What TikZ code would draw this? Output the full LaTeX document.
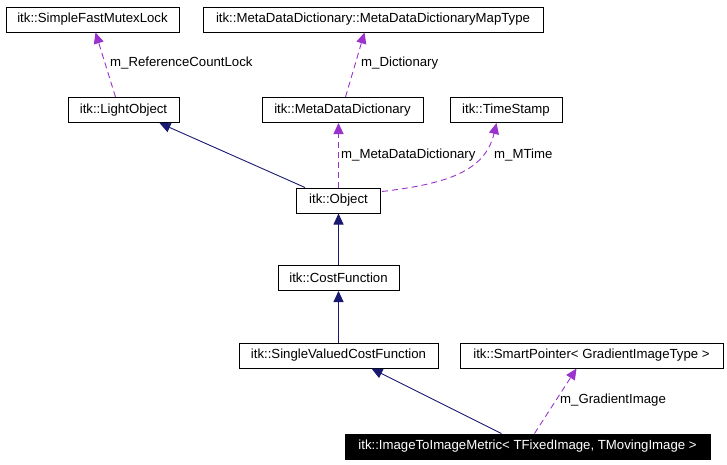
\documentclass[tikz,border=0pt]{standalone}
\usepackage{fontspec}
\setmainfont{Liberation Sans}
\usetikzlibrary{arrows.meta,calc}
\definecolor{navyline}{HTML}{191970}
\definecolor{purpline}{HTML}{9A32CD}
\begin{document}
\begin{tikzpicture}[x=1pt,y=-1pt,
  cls/.style={draw=black,line width=1pt,fill=white,inner sep=0pt,minimum height=25pt,font=\fontsize{13.2}{15}\selectfont},
  focus/.style={cls,fill=black,text=white},
  inherit/.style={draw=navyline,line width=0.9pt,-{Triangle[length=11pt,width=10pt,fill=navyline]}},
  member/.style={draw=purpline,line width=0.9pt,dash pattern=on 6pt off 4pt,-{Triangle[length=11pt,width=10pt,fill=purpline]}},
  lbl/.style={anchor=west,inner sep=0pt,font=\fontsize{13.2}{15}\selectfont}]
\useasboundingbox (0,0) rectangle (727,464);
\node[cls,minimum width=173pt] (mutex) at (92.5,19.5) {itk::SimpleFastMutexLock};
\node[cls,minimum width=340pt] (maptype) at (373,19.5) {itk::MetaDataDictionary::MetaDataDictionaryMapType};
\node[cls,minimum width=111pt] (light) at (123.5,110) {itk::LightObject};
\node[cls,minimum width=161pt] (mdd) at (342.5,110) {itk::MetaDataDictionary};
\node[cls,minimum width=112pt] (stamp) at (506,110) {itk::TimeStamp};
\node[cls,minimum width=84pt] (obj) at (338.5,200.5) {itk::Object};
\node[cls,minimum width=121pt] (cost) at (338.5,278) {itk::CostFunction};
\node[cls,minimum width=199pt] (svcf) at (338.5,355.5) {itk::SingleValuedCostFunction};
\node[cls,minimum width=263pt] (smart) at (591.5,355.5) {itk::SmartPointer< GradientImageType >};
\node[focus,minimum width=365pt] (metric) at (527.5,446.5) {itk::ImageToImageMetric< TFixedImage, TMovingImage >};

% inheritance
\draw[inherit] ($(obj.north west)+(9,0)$) -- ($(light.south west)+(92,0)$);
\draw[inherit] (cost.north) -- (obj.south);
\draw[inherit] (svcf.north) -- (cost.south);
\draw[inherit] ($(metric.north west)+(157,0)$) -- ($(svcf.south west)+(133,0)$);

% members
\draw[member] ($(light.north west)+(48,0)$) -- ($(mutex.south west)+(90,0)$);
\node[lbl] (l1) at (110,63) {m\_ReferenceCountLock};
\draw[member] ($(mdd.north west)+(84,0)$) -- ($(maptype.south west)+(162,0)$);
\node[lbl] (l2) at (361,63) {m\_Dictionary};
\draw[member] ($(obj.north west)+(42.5,0)$) -- ($(mdd.south west)+(77,0)$);
\node[lbl] (l3) at (341,155) {m\_MetaDataDictionary};
\draw[member] ($(obj.north east)+(1,4)$) .. controls (445,184) and (485,172) .. ($(stamp.south west)+(47,0)$);
\node[lbl] (l4) at (494,155) {m\_MTime};
\draw[member] ($(metric.north west)+(190,0)$) -- ($(smart.south west)+(117,0)$);
\node[lbl] (l5) at (560,400) {m\_GradientImage};
\end{tikzpicture}
\end{document}
